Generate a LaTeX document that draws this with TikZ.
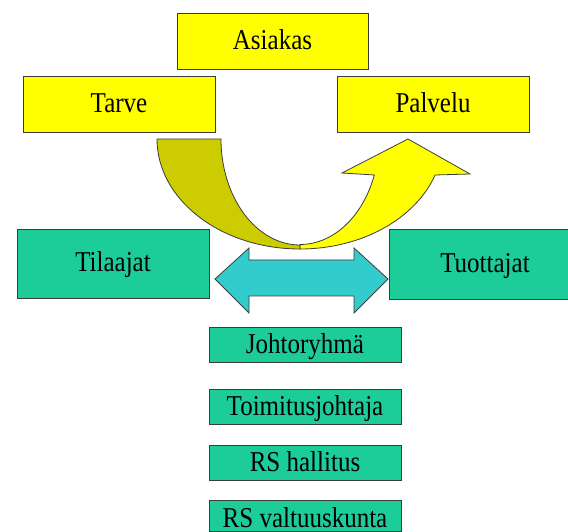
\documentclass[tikz,border=0pt]{standalone}
\usepackage{fontspec}
\setmainfont{Liberation Serif}
\definecolor{boxyellow}{RGB}{255,255,0}
\definecolor{bandolive}{RGB}{204,204,0}
\definecolor{boxgreen}{RGB}{28,204,153}
\definecolor{arrowcyan}{RGB}{51,204,204}
\definecolor{edgegray}{RGB}{60,60,60}
\newcommand{\tallt}[1]{\scalebox{1}[1.15]{#1}}
\begin{document}
\begin{tikzpicture}[x=1pt,y=1pt,
  basebox/.style={draw=edgegray, line width=0.9pt, inner sep=0pt,
    minimum width=192pt, text height=20pt, text depth=3pt,
    font=\fontsize{25}{25}\selectfont},
  ybox/.style={basebox, fill=boxyellow, minimum height=56pt},
  gbox/.style={basebox, fill=boxgreen, minimum height=70pt},
  sbox/.style={basebox, fill=boxgreen, minimum height=35pt},
  bandshape/.style={draw=edgegray, line width=0.8pt}]
\clip (0,0) rectangle (568,531);
\fill[white] (0,0) rectangle (568,531);

% top boxes
\node[ybox, minimum width=191pt] (asiakas) at (272.5,490) {\tallt{Asiakas}};
\node[ybox] (tarve) at (119,427) {\tallt{Tarve}};
\node[ybox] (palvelu) at (433,427) {\tallt{Palvelu}};

% middle boxes
\node[gbox, minimum height=69pt] (tilaajat) at (113,267.5) {\tallt{Tilaajat}};
\node[gbox] (tuottajat) at (485,267) {\tallt{Tuottajat}};

% double arrow
\draw[bandshape, fill=arrowcyan] (215,252) -- (249,283) -- (249,271) -- (354,271)
  -- (354,283) -- (388,252) -- (354,218) -- (354,235) -- (249,235) -- (249,218) -- cycle;

% curved arrow: back (olive) part
\draw[bandshape, fill=bandolive] (157,392)
  arc[start angle=180, end angle=270, x radius=143, y radius=110]
  -- (300,286)
  arc[start angle=270, end angle=180, x radius=79, y radius=106]
  -- cycle;
% curved arrow: front (yellow) part with head
\draw[bandshape, fill=boxyellow] (300,282)
  arc[start angle=270, end angle=340.9, x radius=143, y radius=110]
  -- (470,357) -- (408,392) -- (342,358) -- (374.3,356)
  arc[start angle=339.85, end angle=270, x radius=79, y radius=106]
  -- cycle;

% bottom boxes
\node[sbox] (johto) at (305,186.5) {\tallt{Johtoryhmä}};
\node[sbox] (toimitus) at (305,124.5) {\tallt{Toimitusjohtaja}};
\node[sbox] (hallitus) at (305,68.5) {\tallt{RS hallitus}};
\node[sbox, minimum height=31pt, text height=24pt, text depth=1pt] (valtuus) at (305,15) {\tallt{RS valtuuskunta}};
\end{tikzpicture}
\end{document}
